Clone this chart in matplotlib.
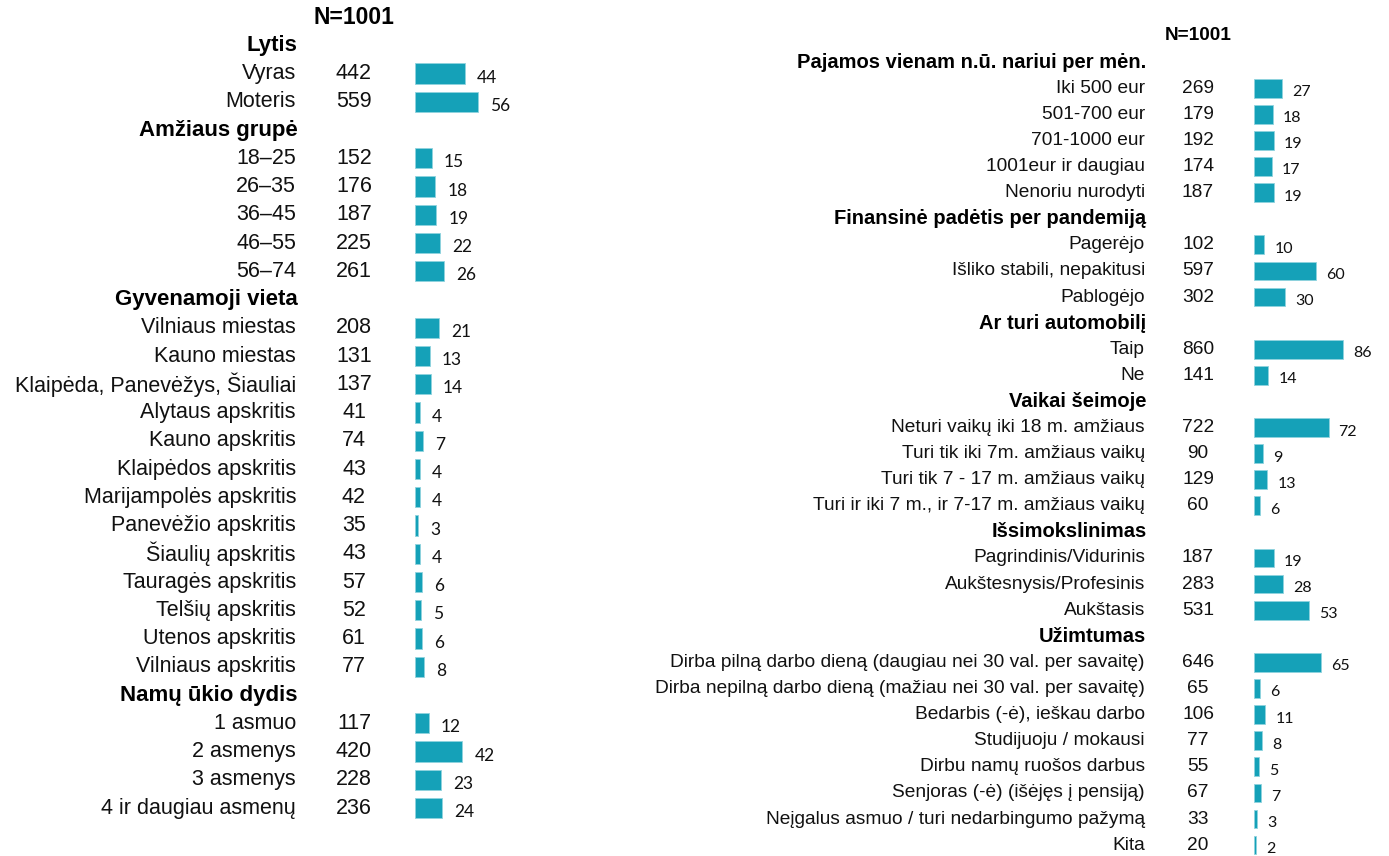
import matplotlib.pyplot as plt
from matplotlib.transforms import blended_transform_factory

# Kairė pusė
lytis_lab = ['Vyras', 'Moteris']
lytis_n = [442, 559]
lytis_pct = [44, 56]

amzius_lab = ['18–25', '26–35', '36–45', '46–55', '56–74']
amzius_n = [152, 176, 187, 225, 261]
amzius_pct = [15, 18, 19, 22, 26]

vieta_lab = ['Vilniaus miestas', 'Kauno miestas', 'Klaipėda, Panevėžys, Šiauliai',
             'Alytaus apskritis', 'Kauno apskritis', 'Klaipėdos apskritis',
             'Marijampolės apskritis', 'Panevėžio apskritis', 'Šiaulių apskritis',
             'Tauragės apskritis', 'Telšių apskritis', 'Utenos apskritis',
             'Vilniaus apskritis']
vieta_n = [208, 131, 137, 41, 74, 43, 42, 35, 43, 57, 52, 61, 77]
vieta_pct = [21, 13, 14, 4, 7, 4, 4, 3, 4, 6, 5, 6, 8]

namu_lab = ['1 asmuo', '2 asmenys', '3 asmenys', '4 ir daugiau asmenų']
namu_n = [117, 420, 228, 236]
namu_pct = [12, 42, 23, 24]

# Dešinė pusė
pajamos_lab = ['Iki 500 eur', '501-700 eur', '701-1000 eur', '1001eur ir daugiau',
               'Nenoriu nurodyti']
pajamos_n = [269, 179, 192, 174, 187]
pajamos_pct = [27, 18, 19, 17, 19]

finans_lab = ['Pagerėjo', 'Išliko stabili, nepakitusi', 'Pablogėjo']
finans_n = [102, 597, 302]
finans_pct = [10, 60, 30]

auto_lab = ['Taip', 'Ne']
auto_n = [860, 141]
auto_pct = [86, 14]

vaikai_lab = ['Neturi vaikų iki 18 m. amžiaus', 'Turi tik iki 7m. amžiaus vaikų',
              'Turi tik 7 - 17 m. amžiaus vaikų',
              'Turi ir iki 7 m., ir 7-17 m. amžiaus vaikų']
vaikai_n = [722, 90, 129, 60]
vaikai_pct = [72, 9, 13, 6]

issilav_lab = ['Pagrindinis/Vidurinis', 'Aukštesnysis/Profesinis', 'Aukštasis']
issilav_n = [187, 283, 531]
issilav_pct = [19, 28, 53]

uzimt_lab = ['Dirba pilną darbo dieną (daugiau nei 30 val. per savaitę)',
             'Dirba nepilną darbo dieną (mažiau nei 30 val. per savaitę)',
             'Bedarbis (-ė), ieškau darbo', 'Studijuoju / mokausi',
             'Dirbu namų ruošos darbus', 'Senjoras (-ė) (išėjęs į pensiją)',
             'Neįgalus asmuo / turi nedarbingumo pažymą', 'Kita']
uzimt_n = [646, 65, 106, 77, 55, 67, 33, 20]
uzimt_pct = [65, 6, 11, 8, 5, 7, 3, 2]

left_sections = [
    ('Lytis', lytis_lab, lytis_n, lytis_pct),
    ('Amžiaus grupė', amzius_lab, amzius_n, amzius_pct),
    ('Gyvenamoji vieta', vieta_lab, vieta_n, vieta_pct),
    ('Namų ūkio dydis', namu_lab, namu_n, namu_pct),
]
right_sections = [
    ('Pajamos vienam n.ū. nariui per mėn.', pajamos_lab, pajamos_n, pajamos_pct),
    ('Finansinė padėtis per pandemiją', finans_lab, finans_n, finans_pct),
    ('Ar turi automobilį', auto_lab, auto_n, auto_pct),
    ('Vaikai šeimoje', vaikai_lab, vaikai_n, vaikai_pct),
    ('Išsimokslinimas', issilav_lab, issilav_n, issilav_pct),
    ('Užimtumas', uzimt_lab, uzimt_n, uzimt_pct),
]

W, H = 1389, 856
BAR = '#15a1b8'
fig = plt.figure(figsize=(W / 100, H / 100), dpi=100)


def panel(sections, bar_x, px_per_unit, y0, pitch, label_x, n_x,
          fs, head_fs, nfs, num_fs, num_dx):
    # osis stulpeliams: x procentais, y eilučių numeriais
    ax = fig.add_axes([bar_x / W, 0, 200 / W, 1])
    ax.set_xlim(0, 200 / px_per_unit)
    ax.set_ylim((H - y0) / pitch, -y0 / pitch)
    ax.axis('off')
    tr = blended_transform_factory(fig.transFigure, ax.transData)

    ax.text(n_x / W, 0, 'N=1001', transform=tr, ha='center', va='center',
            fontsize=nfs, fontweight='bold', family='Liberation Sans')
    row = 1
    for head, labs, ns, pcts in sections:
        ax.text(label_x / W + 0.001, row, head, transform=tr, ha='right', va='center',
                fontsize=head_fs, fontweight='bold', family='Liberation Sans')
        row += 1
        rows = list(range(row, row + len(labs)))
        ax.barh(rows, pcts, height=0.72, color=BAR, edgecolor='#8fd3de', linewidth=0.6)
        for r, lab, n, p in zip(rows, labs, ns, pcts):
            ax.text(label_x / W, r, lab, transform=tr, ha='right', va='center',
                    fontsize=fs, family='Liberation Sans', color='#111111')
            ax.text(n_x / W, r, str(n), transform=tr, ha='center', va='center',
                    fontsize=fs, family='Liberation Sans', color='#111111')
            ax.annotate(str(p), (p, r), xytext=(num_dx, -4), textcoords='offset pixels',
                        ha='left', va='center', fontsize=num_fs, family='Lato',
                        color='#111111')
        row += len(labs)
    return ax


panel(left_sections, 415, 1.13, 17, 28.25, 296, 354, 15.5, 16, 16.5, 12.5, 12)
panel(right_sections, 1254, 1.035, 36, 26.1, 1145, 1198, 13.8, 14.5, 13.7, 11.5, 10)

fig.savefig('out.png', dpi=100)
